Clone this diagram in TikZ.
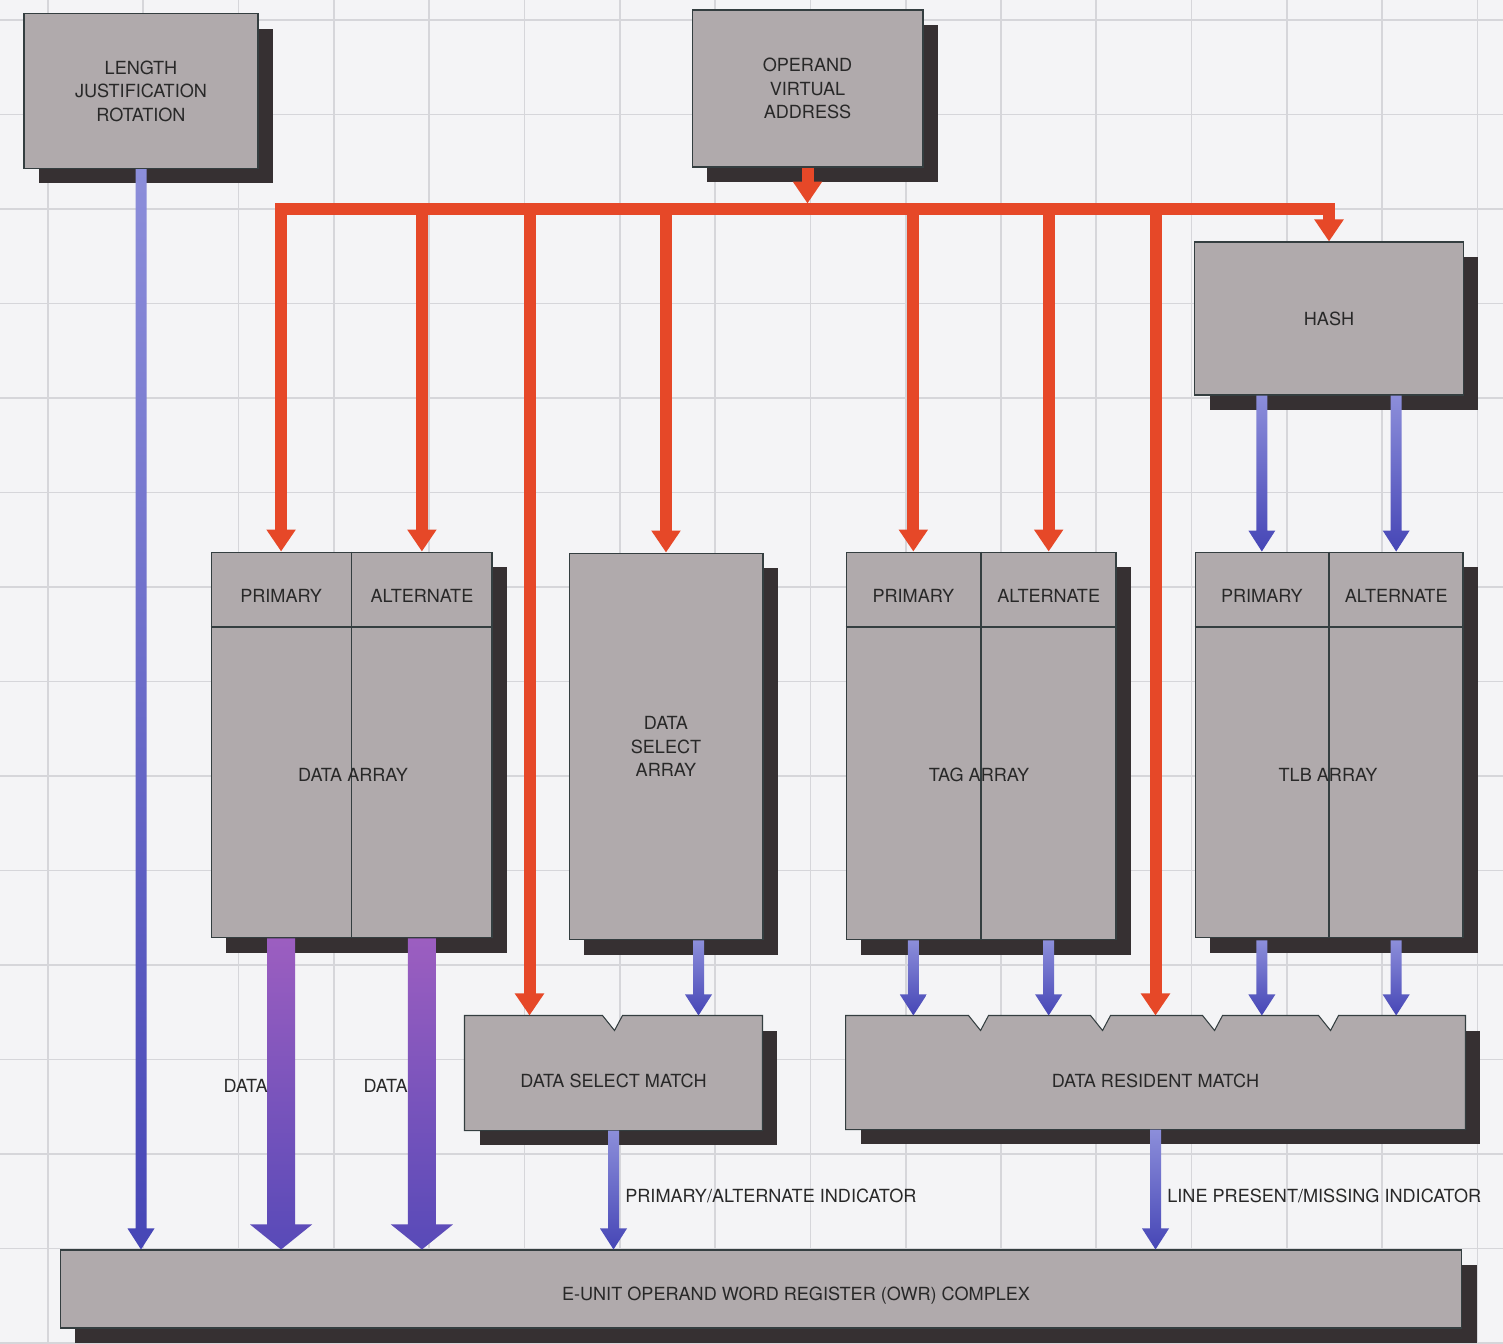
\documentclass[tikz,border=0pt]{standalone}
\usepackage{fontspec}
\setmainfont{TeX Gyre Heros}
\usepackage{tikz}
\usetikzlibrary{arrows.meta,shadows,calc}
\definecolor{paper}{RGB}{244,244,246}
\definecolor{gridgray}{RGB}{214,214,218}
\definecolor{facegray}{RGB}{176,170,172}
\definecolor{edgegray}{RGB}{52,62,64}
\definecolor{shadowgray}{RGB}{54,48,50}
\definecolor{inkgray}{RGB}{40,40,40}
\definecolor{busred}{RGB}{230,72,40}
\definecolor{flowtop}{RGB}{140,142,218}
\definecolor{flowbot}{RGB}{70,70,182}
\definecolor{datatop}{RGB}{156,94,192}
\definecolor{databot}{RGB}{88,74,184}
\tikzset{
  unitbox/.style = {rectangle, inner sep=0pt, align=center, fill=facegray,
    draw=edgegray, line width=0.6pt, text=inkgray,
    font=\fontsize{10.3}{13.4}\selectfont,
    drop shadow={shadow xshift=0.3cm, shadow yshift=-0.3cm,
      fill=shadowgray, opacity=1}},% grey unit, dark shadow
  notchbox/.style = {unitbox, fill=none, draw=none},% face drawn after, notched
  face/.style = {fill=facegray, draw=edgegray, line width=0.6pt},
  halfcell/.style = {rectangle, inner sep=0pt, minimum height=1.5cm,
    text height=15.4pt, text depth=0pt,
    text=inkgray, font=\fontsize{10.3}{13.4}\selectfont},% header cell
  caption/.style = {inner sep=0pt, align=center, text=inkgray,
    font=\fontsize{10.3}{13.4}\selectfont},
  divider/.style = {draw=edgegray, line width=1pt},
  gridline/.style = {draw=gridgray, line width=1pt},
  redflow/.style = {draw=busred, line width=0.24cm,
    -{Triangle[width=0.56cm,length=0.44cm]}},% address lines
  blueflow/.style = {top color=flowtop, bottom color=flowbot},
  dataflow/.style = {top color=datatop, bottom color=databot}
}
% shaded arrow: style, from, to, shaft half width, head half width, head length
\newcommand\flowarrow[6]{%
  \shade[#1] let \p1=(#2), \p2=(#3) in
    (\x1-#4,\y1) -- (\x1+#4,\y1) -- (\x1+#4,\y2+#6) -- (\x1+#5,\y2+#6)
    -- (\x1,\y2) -- (\x1-#5,\y2+#6) -- (\x1-#4,\y2+#6) -- cycle;}

\begin{document}
\begin{tikzpicture}[x=0.02cm, y=-0.02cm]
  \fill[paper] (0,0) rectangle (1503,1344);
  \useasboundingbox (0,0) rectangle (1503,1344);
  \foreach \i in {0,...,15} \draw[gridline] ({48+95.3*\i},0) -- ++(0,1344);
  \foreach \j in {0,...,14} \draw[gridline] (0,{20+94.5*\j}) -- ++(1503,0);

  % sources
  \node[unitbox, minimum width=4.68cm, minimum height=3.1cm] (ljr) at (141,91)
    {LENGTH\\JUSTIFICATION\\ROTATION};
  \node[unitbox, minimum width=4.62cm, minimum height=3.14cm] (ova) at (807.5,88.5)
    {OPERAND\\VIRTUAL\\ADDRESS};
  \node[unitbox, minimum width=5.38cm, minimum height=3.06cm] (hash) at (1329,318.5)
    {HASH};

  % data array
  \node[unitbox, minimum width=5.62cm, minimum height=7.72cm] (da) at (351.5,745) {};
  \node[halfcell, minimum width=2.81cm, anchor=north west] (dap) at (da.north west) {PRIMARY};
  \node[halfcell, minimum width=2.81cm, anchor=north east] (daa) at (da.north east) {ALTERNATE};
  \draw[divider] (dap.south west) -- (daa.south east);
  \draw[divider] (da.north) -- (da.south);
  \node[caption] (dalbl) at (353,775) {DATA ARRAY};

  % data select array
  \node[unitbox, minimum width=3.88cm, minimum height=7.74cm] (dsa) at (666,746.5)
    {DATA\\SELECT\\ARRAY};

  % tag array
  \node[unitbox, minimum width=5.4cm, minimum height=7.76cm] (tag) at (981,746) {};
  \node[halfcell, minimum width=2.7cm, anchor=north west] (tagp) at (tag.north west) {PRIMARY};
  \node[halfcell, minimum width=2.7cm, anchor=north east] (taga) at (tag.north east) {ALTERNATE};
  \draw[divider] (tagp.south west) -- (taga.south east);
  \draw[divider] (tag.north) -- (tag.south);
  \node[caption] (taglbl) at (979,775) {TAG ARRAY};

  % tlb array
  \node[unitbox, minimum width=5.36cm, minimum height=7.72cm] (tlb) at (1329,745) {};
  \node[halfcell, minimum width=2.68cm, anchor=north west] (tlbp) at (tlb.north west) {PRIMARY};
  \node[halfcell, minimum width=2.68cm, anchor=north east] (tlba) at (tlb.north east) {ALTERNATE};
  \draw[divider] (tlbp.south west) -- (tlba.south east);
  \draw[divider] (tlb.north) -- (tlb.south);
  \node[caption] (tlblbl) at (1328,775) {TLB ARRAY};

  % match units
  \node[notchbox, minimum width=5.94cm, minimum height=2.28cm] (dsm) at (613.5,1073) {};
  \path[face] (dsm.south west) -- (dsm.north west) -- ++(138,0) -- ++(12,15) -- ++(8,-15)
    -- (dsm.north east) -- (dsm.south east) -- cycle;
  \node[caption] (dsmlbl) at ($(dsm)+(0,8)$) {DATA SELECT MATCH};
  \node[notchbox, minimum width=12.38cm, minimum height=2.26cm] (drm) at (1155.5,1072.5) {};
  \path[face] (drm.south west) -- (drm.north west) -- ++(123,0) -- ++(12,15) -- ++(8,-15)
    -- ++(102,0) -- ++(12,15) -- ++(8,-15) -- ++(92,0) -- ++(12,15) -- ++(8,-15)
    -- ++(96,0) -- ++(12,15) -- ++(8,-15) -- (drm.north east) -- (drm.south east) -- cycle;
  \node[caption] (drmlbl) at ($(drm)+(0,8)$) {DATA RESIDENT MATCH};

  % register
  \node[unitbox, minimum width=28.04cm, minimum height=1.56cm] (owr) at (761,1289) {};
  \node[caption] (owrlbl) at (796,1296) {E-UNIT OPERAND WORD REGISTER (OWR) COMPLEX};

  % address bus
  \coordinate (bus) at ($(ova.south)+(0,41)$);
  \coordinate (dsmin) at ($(dsm.north west)+(65,0)$);
  \coordinate (dsaout) at ($(dsa.south east)+(-65,0)$);
  \draw[redflow, shorten >=0.1cm] (ova.south) -- (bus);
  \draw[redflow] (bus) -| (dap.north);
  \draw[redflow] (bus) -| (hash.north);
  \foreach \dst in {daa.north, dsmin, dsa.north, tagp.north, taga.north, drm.north}
    \draw[redflow] (\dst |- bus) -- (\dst);

  % results
  \flowarrow{blueflow}{ljr.south}{ljr.south |- owr.north}{0.11cm}{0.27cm}{0.42cm}
  \flowarrow{dataflow}{dap.south |- da.south}{dap.south |- owr.north}{0.28cm}{0.62cm}{0.5cm}
  \flowarrow{dataflow}{daa.south |- da.south}{daa.south |- owr.north}{0.28cm}{0.62cm}{0.5cm}
  \flowarrow{blueflow}{dsaout}{dsaout |- dsm.north}{0.11cm}{0.27cm}{0.42cm}
  \flowarrow{blueflow}{hash.south -| tlbp.north}{tlbp.north}{0.11cm}{0.27cm}{0.42cm}
  \flowarrow{blueflow}{hash.south -| tlba.north}{tlba.north}{0.11cm}{0.27cm}{0.42cm}
  \foreach \src in {tagp, taga, tlbp, tlba}{
    \flowarrow{blueflow}{\src.south |- tag.south}{\src.south |- drm.north}{0.11cm}{0.27cm}{0.42cm}
  }
  \flowarrow{blueflow}{dsm.south}{dsm.south |- owr.north}{0.11cm}{0.27cm}{0.42cm}
  \flowarrow{blueflow}{drm.south}{drm.south |- owr.north}{0.11cm}{0.27cm}{0.42cm}

  \node[caption, anchor=east] (dat1) at (268,1086) {DATA};
  \node[caption, anchor=east] (dat2) at (408,1086) {DATA};
  \node[caption, anchor=west] (pai) at (625,1196) {PRIMARY/ALTERNATE INDICATOR};
  \node[caption, anchor=west] (lpm) at (1167,1196) {LINE PRESENT/MISSING INDICATOR};
\end{tikzpicture}
\end{document}
